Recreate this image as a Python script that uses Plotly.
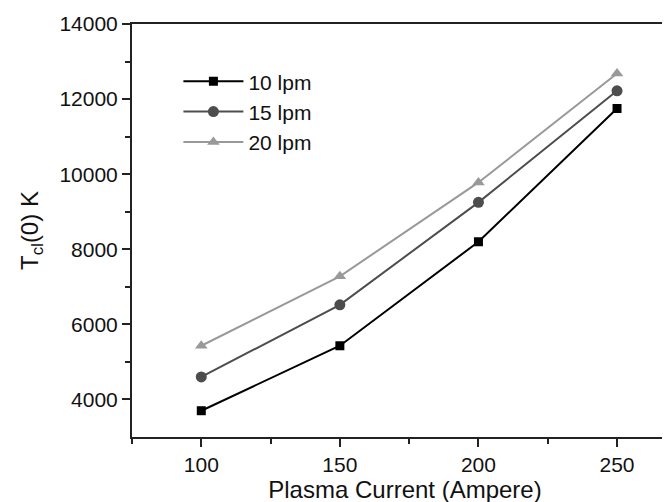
import plotly.graph_objects as go

current = [100, 150, 200, 250]
t_10lpm = [3700, 5430, 8200, 11750]
t_15lpm = [4600, 6520, 9250, 12220]
t_20lpm = [5430, 7280, 9780, 12680]
series_names = ["10 lpm", "15 lpm", "20 lpm"]
x_ticks = [100, 150, 200, 250]
y_ticks = [4000, 6000, 8000, 10000, 12000, 14000]

colors = ["#000000", "#4d4d4d", "#999999"]
symbols = ["square", "circle", "triangle-up"]

fig = go.Figure()
for name, ys, c, s in zip(series_names, [t_10lpm, t_15lpm, t_20lpm], colors, symbols):
    fig.add_trace(go.Scatter(
        x=current, y=ys, name=name, mode="lines+markers",
        line=dict(color=c, width=2),
        marker=dict(symbol=s, color=c, size=11 if s != "square" else 9),
    ))

font = "Liberation Sans, Arial, sans-serif"
fig.update_layout(
    width=670, height=502,
    margin=dict(l=124, r=0, t=16, b=73),
    paper_bgcolor="white", plot_bgcolor="white",
    font=dict(family=font, size=21, color="#111"),
    showlegend=True,
    legend=dict(x=0.085, y=0.91, xanchor="left", yanchor="top",
                bgcolor="rgba(0,0,0,0)", font=dict(size=21),
                itemwidth=60, tracegroupgap=0),
    xaxis=dict(
        range=[75, 272], tickvals=x_ticks, ticktext=[str(v) for v in x_ticks],
        showgrid=False, zeroline=False,
        showline=True, linecolor="#222", linewidth=2, mirror=True,
        ticks="outside", ticklen=8, tickwidth=2, tickcolor="#222",
        minor=dict(tickvals=[75, 125, 175, 225], ticks="outside", ticklen=5, tickwidth=2, tickcolor="#222"),
        title=dict(text="Plasma Current (Ampere)", font=dict(size=24), standoff=4),
        tickfont=dict(size=21),
    ),
    yaxis=dict(
        range=[3000, 14000], tickvals=y_ticks, ticktext=[str(v) for v in y_ticks],
        showgrid=False, zeroline=False,
        showline=True, linecolor="#222", linewidth=2, mirror=False,
        ticks="outside", ticklen=8, tickwidth=2, tickcolor="#222",
        minor=dict(tickvals=[5000, 7000, 9000, 11000, 13000], ticks="outside", ticklen=5, tickwidth=2, tickcolor="#222"),
        title=dict(text="T<sub>cl</sub>(0) K", font=dict(size=24), standoff=14),
        tickfont=dict(size=21),
    ),
)

fig.write_html("out.html")
